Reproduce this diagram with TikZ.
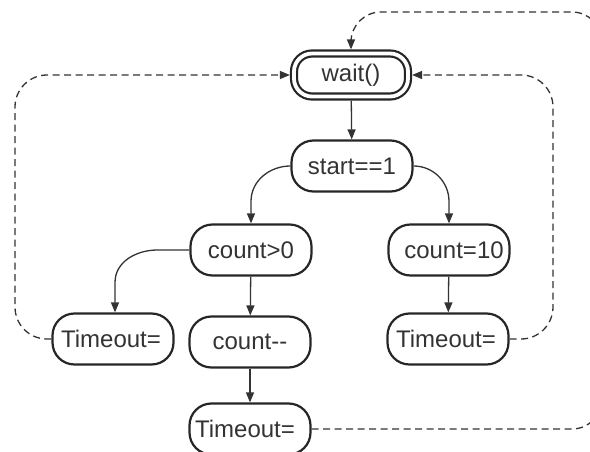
\documentclass[tikz,border=0pt]{standalone}
\usepackage{fontspec}
\setmainfont{Liberation Sans}
\usetikzlibrary{arrows.meta,calc}
\begin{document}
\begin{tikzpicture}[x=1pt,y=-1pt,
  state/.style={draw=black!85, line width=2.2pt, rectangle, rounded corners=22pt,
    minimum width=121pt, minimum height=51pt, inner sep=0pt,
    font=\fontsize{24}{26}\selectfont, text=black!80},
  waitst/.style={state, double, double distance=3.8pt, minimum width=114pt,
    minimum height=43pt, rounded corners=18pt, outer sep=4.1pt},
  flow/.style={draw=black!80, line width=1.3pt, -{Triangle[length=10pt,width=8pt]}},
  back/.style={flow, dash pattern=on 7pt off 4.5pt, rounded corners=32pt}]
\useasboundingbox (0,0) rectangle (590,452);
\clip (0,0) rectangle (590,452);
\node[waitst] (wait) at (351,75) {\raisebox{-2pt}{wait()}};
\node[state] (start) at (352,166) {start==1};
\node[state] (cgt) at (251,250) {count>0};
\node[state] (c10) at (449,250) {\hspace*{10pt}count=10};
\node[state] (tl) at (113,339) {Timeout=\hspace*{4pt}};
\node[state] (cmm) at (250,342) {count{-}{-}};
\node[state] (tr) at (448,339) {Timeout=\hspace*{4pt}};
\node[state] (tb) at (250,429) {Timeout=\hspace*{10pt}};
\draw[flow] (wait) -- (start);
\draw[flow] (start.west) to[out=180,in=90] ($(cgt.north)+(0,-22)$) -- (cgt.north);
\draw[flow] (start.east) to[out=0,in=90] ($(c10.north)+(0,-22)$) -- (c10.north);
\draw[flow] (cgt.west) -- ($(cgt.west)+(-32,0)$) to[out=180,in=90] ($(tl.north)+(2,-30)$) -- ($(tl.north)+(2,0)$);
\draw[flow] (cgt) -- (cmm);
\draw[flow] (c10) -- (tr);
\draw[flow] (cmm) -- (tb);
\draw[back] (tl.west) -| (15,75) -- (wait.west);
\draw[back] (tr.east) -| (553,75) -- (wait.east);
\draw[back, rounded corners=30pt] (tb.east) -| (602,12) -| (wait.north);
\end{tikzpicture}
\end{document}
